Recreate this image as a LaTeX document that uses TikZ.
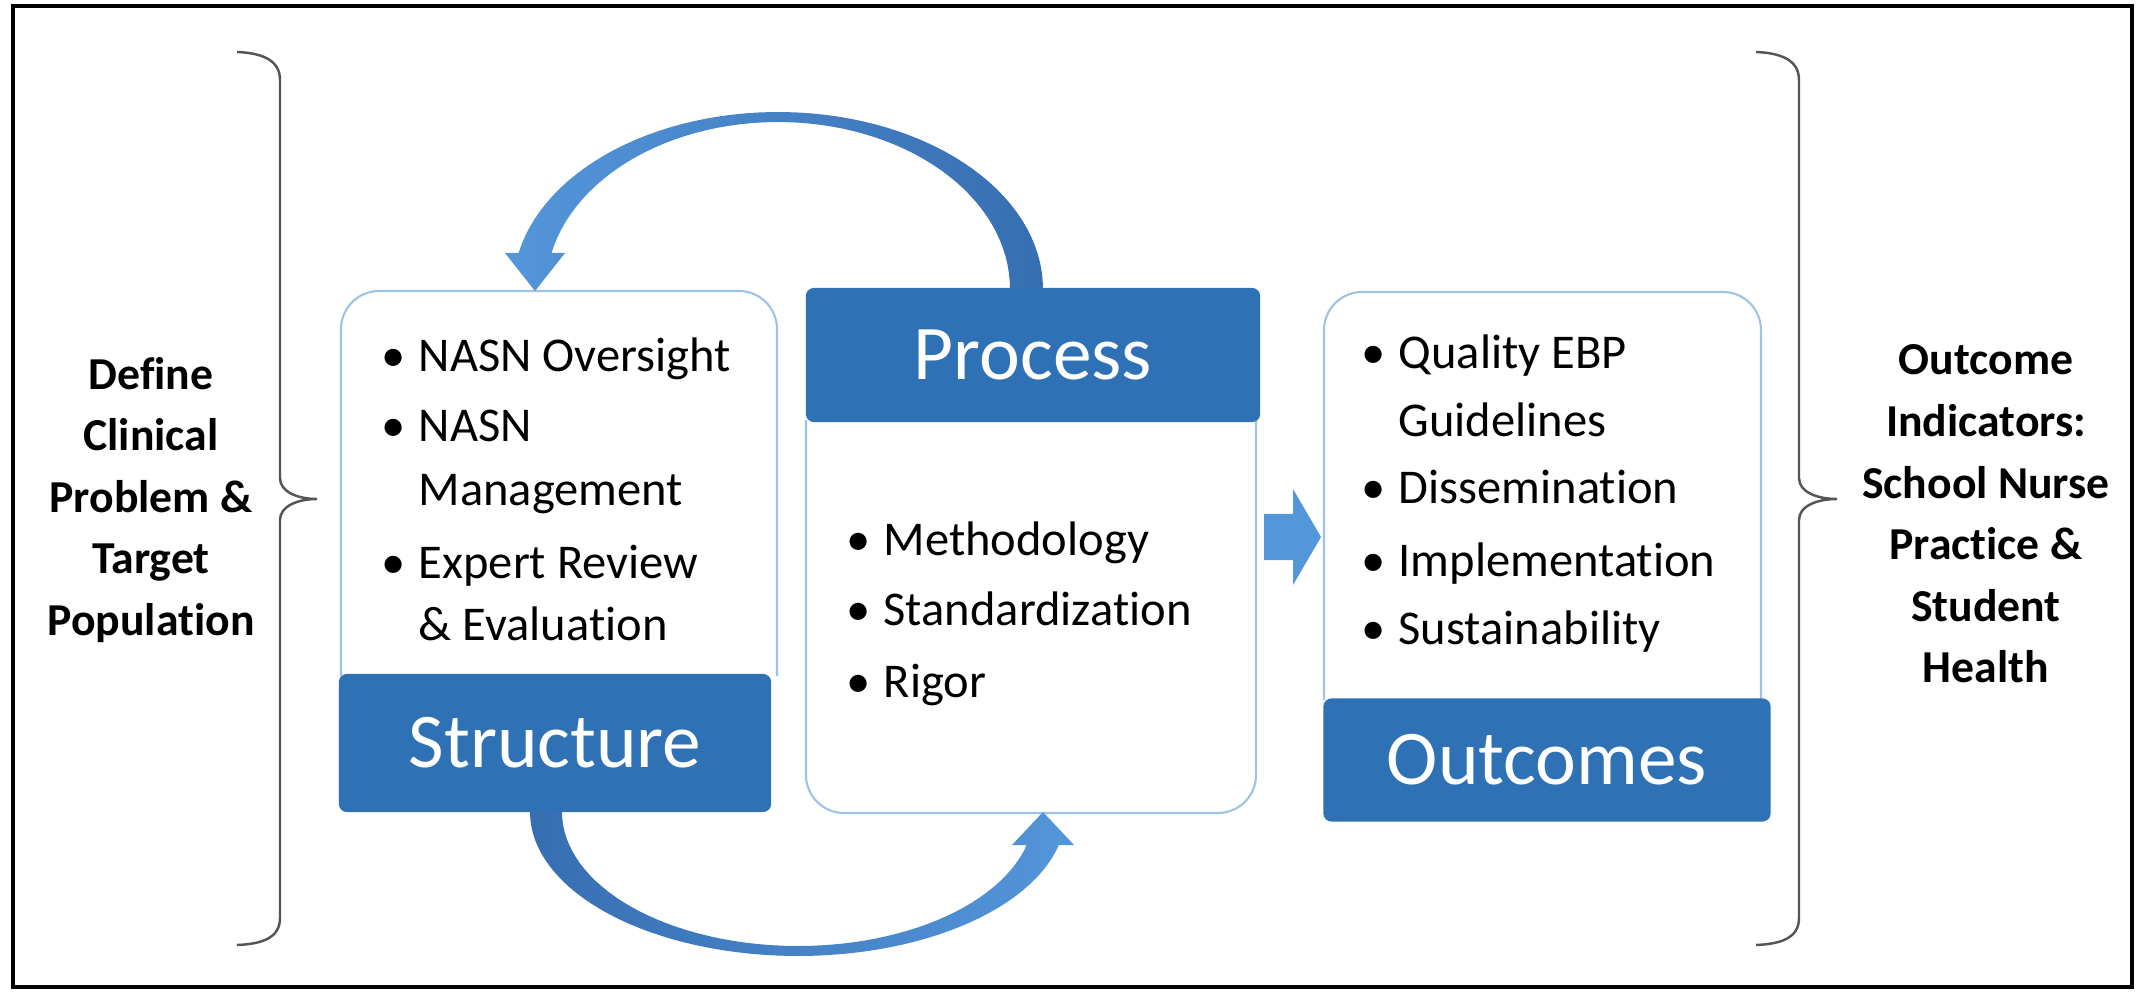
\documentclass[tikz,border=0pt]{standalone}
\usepackage{fontspec}
\setmainfont{Carlito}[Ligatures=NoCommon]

\definecolor{barblue}{RGB}{47,113,181}
\definecolor{arrowdark}{RGB}{55,110,178}
\definecolor{arrowlight}{RGB}{84,150,218}
\definecolor{boxline}{RGB}{157,195,230}
\definecolor{bracegray}{RGB}{85,85,85}

\newcommand{\bul}{\makebox[0.37cm][l]{\textbullet}}

\tikzset{
  titlebar/.style={fill=barblue, rounded corners=0.08cm, text=white, inner sep=0pt, font=\fontsize{22}{26}\selectfont},
  wbox/.style={draw=boxline, line width=0.6pt, rounded corners=0.38cm},
  listtext/.style={inner sep=0pt, anchor=base west, font=\fontsize{13.8}{17}\selectfont},
  sidetext/.style={align=center, inner sep=0pt, font=\bfseries\fontsize{13}{17.5}\selectfont},
  bracket/.style={draw=bracegray, line width=0.7pt},
}

\begin{document}
\begin{tikzpicture}[x=0.01cm,y=-0.01cm]
\useasboundingbox (0,0) rectangle (2141,994);
\draw[line width=0.9pt] (13,6) rectangle (2132,987);

\draw[bracket] (237,52) .. controls (262,53) and (280,60) .. (280,80) -- (280,478) .. controls (280,492) and (298,499) .. (317,499) .. controls (298,499) and (280,506) .. (280,520) -- (280,918) .. controls (280,938) and (262,944) .. (237,945);
\draw[bracket] (1756,52) .. controls (1781,53) and (1799,60) .. (1799,80) -- (1799,478) .. controls (1799,492) and (1817,499) .. (1837,499) .. controls (1817,499) and (1799,506) .. (1799,520) -- (1799,918) .. controls (1799,938) and (1781,944) .. (1756,945);

\node[sidetext] (problem) at (151,500) {Define\\Clinical\\Problem \&\\Target\\Population};
\node[sidetext] (indicators) at (1986,514) {Outcome\\Indicators:\\School Nurse\\Practice \&\\Student\\Health};

\draw[wbox] (341,676) |- (777,291) -- (777,676);
\draw[wbox] (806,420) |- (1256,813) -- (1256,420);
\draw[wbox] (1324,700) |- (1761,292) -- (1761,700);

\shade[left color=arrowlight, right color=arrowdark] plot[domain=0:168.26, samples=60] ({778+265*cos(\x)},{289-177*sin(\x)}) -- (505,253) -- (535,291) -- (565,253) -- plot[domain=167.55:0, samples=60] ({778+232*cos(\x)},{289-167*sin(\x)}) -- cycle;
\shade[left color=arrowdark, right color=arrowlight] plot[domain=0:166.75, samples=60] ({798-268*cos(\x)},{812+144*sin(\x)}) -- (1074,845) -- (1043,812) -- (1012,845) -- plot[domain=165.74:0, samples=60] ({798-236*cos(\x)},{812+134*sin(\x)}) -- cycle;
\fill[arrowlight] (1264,514) -- (1293,514) -- (1293,489) -- (1321,537) -- (1293,585) -- (1293,560) -- (1264,560) -- cycle;

\node[titlebar, minimum width=4.32cm, minimum height=1.38cm] (structure) at (555,743) {Structure};
\node[titlebar, minimum width=4.54cm, minimum height=1.34cm] (process) at (1033,355) {Process};
\node[titlebar, minimum width=4.47cm, minimum height=1.23cm] (outcomes) at (1547,760) {Outcomes};

\node[listtext] (s1) at (381,372) {\bul NASN Oversight};
\node[listtext] (s2) at (381,442) {\bul NASN};
\node[listtext] (s3) at (418,505) {Management};
\node[listtext] (s4) at (381,578) {\bul Expert Review};
\node[listtext] (s5) at (418,640) {\& Evaluation};

\node[listtext] (p1) at (846,555) {\bul Methodology};
\node[listtext] (p2) at (846,626) {\bul Standardization};
\node[listtext] (p3) at (846,697) {\bul Rigor};

\node[listtext] (o1) at (1361,369) {\bul Quality EBP};
\node[listtext] (o2) at (1398,436) {Guidelines};
\node[listtext] (o3) at (1361,504) {\bul Dissemination};
\node[listtext] (o4) at (1361,577) {\bul Implementation};
\node[listtext] (o5) at (1361,644) {\bul Sustainability};
\end{tikzpicture}
\end{document}
